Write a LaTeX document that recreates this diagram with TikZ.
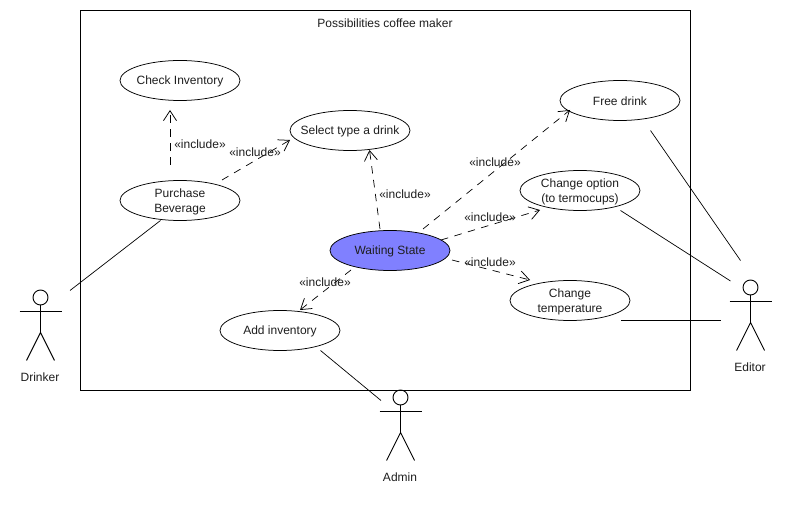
\documentclass[tikz,border=0pt]{standalone}
\usepackage{fontspec}
\setmainfont{Liberation Sans}
\usetikzlibrary{arrows.meta,shapes.geometric}
\definecolor{waitfill}{RGB}{128,128,255}
\definecolor{txt}{RGB}{30,30,30}
\tikzset{
  uc/.style={draw=black,fill=white,ellipse,minimum width=120pt,minimum height=40pt,inner sep=0pt,line width=0.75pt,label={[uctext]center:#1}},
  uctext/.style={inner sep=0pt,align=center,font=\fontsize{12}{15}\selectfont,text=txt,yshift=-1pt},
  lbl/.style={font=\fontsize{12}{14}\selectfont,text=txt,inner sep=0pt},
  inc/.style={draw=black,dash pattern=on 7.5pt off 6.5pt,line width=0.7pt,-{Straight Barb[length=10pt,width=13pt,line width=0.75pt,sep=0pt]}},
  assoc/.style={draw=black,line width=0.7pt},
  part/.style={draw=black,line width=0.9pt},
}
\newcommand{\stickman}[2]{%
  \begin{scope}[shift={(#1,#2)}]
    \draw[part] (0,-7.5) circle (7.5);
    \draw[part] (0,-15) -- (0,-42.5);
    \draw[part] (-21,-21) -- (21,-21);
    \draw[part] (-14,-70.5) -- (0,-42.5) -- (14,-70.5);
  \end{scope}}
\begin{document}
\begin{tikzpicture}[x=1pt,y=1pt]
\useasboundingbox (0,0) rectangle (790,-510);
\fill[white] (0,0) rectangle (790,-510);
\draw[line width=0.9pt] (80.5,-10.5) rectangle (690.5,-390.5);
\node[lbl] (title) at (385,-23) {Possibilities coffee maker};
\node[uc={Check Inventory}] (check) at (180,-80.5) {};
\node[uc={Purchase\\Beverage}] (purchase) at (180,-200.5) {};
\node[uc={Select type a drink}] (select) at (350,-130.5) {};
\node[uc={Free drink}] (free) at (620,-100.5) {};
\node[uc={Change option\\(to termocups)}] (option) at (580,-190.5) {};
\node[uc={Waiting State},fill=waitfill] (wait) at (390,-250.5) {};
\node[uc={Change\\temperature}] (temp) at (570,-300.5) {};
\node[uc={Add inventory}] (add) at (280,-330.5) {};
\coordinate (i1a) at (170,-165); \coordinate (i1b) at (170,-110);
\coordinate (i2a) at (222,-180); \coordinate (i2b) at (290,-140);
\coordinate (i3a) at (380,-229); \coordinate (i3b) at (369.5,-150);
\coordinate (i4a) at (423,-229); \coordinate (i4b) at (570,-110);
\coordinate (i5a) at (441,-240); \coordinate (i5b) at (540,-210);
\coordinate (i6a) at (452,-260); \coordinate (i6b) at (530,-280);
\coordinate (i7a) at (351,-270); \coordinate (i7b) at (300,-310);
\draw[inc] (i1a) -- (i1b);
\draw[inc] (i2a) -- (i2b);
\draw[inc] (i3a) -- (i3b);
\draw[inc] (i4a) -- (i4b);
\draw[inc] (i5a) -- (i5b);
\draw[inc] (i6a) -- (i6b);
\draw[inc] (i7a) -- (i7b);
\node[lbl] (l1) at (200,-144) {«include»};
\node[lbl] (l2) at (255,-152) {«include»};
\node[lbl] (l3) at (405,-194) {«include»};
\node[lbl] (l4) at (495,-162) {«include»};
\node[lbl] (l5) at (490,-217) {«include»};
\node[lbl] (l6) at (490,-262) {«include»};
\node[lbl] (l7) at (325,-282) {«include»};
\stickman{40.5}{-290}
\stickman{750.5}{-280}
\stickman{400.5}{-390}
\node[lbl] (drinkerl) at (40,-377) {Drinker};
\node[lbl] (editorl) at (750,-367) {Editor};
\node[lbl] (adminl) at (400,-477) {Admin};
\coordinate (d1) at (70,-290.5);
\coordinate (p1) at (160.5,-220.5);
\coordinate (e1) at (740.5,-260.5);
\coordinate (e2) at (650.5,-130.5);
\coordinate (e3) at (730.5,-281);
\coordinate (e4) at (620.5,-210.5);
\coordinate (e5) at (720.5,-320.5);
\coordinate (e6) at (620.5,-320.5);
\coordinate (a1) at (381,-400.5);
\coordinate (a2) at (320.5,-350.5);
\draw[assoc] (d1) -- (p1);
\draw[assoc] (e1) -- (e2);
\draw[assoc] (e3) -- (e4);
\draw[assoc] (e5) -- (e6);
\draw[assoc] (a1) -- (a2);
\end{tikzpicture}
\end{document}
